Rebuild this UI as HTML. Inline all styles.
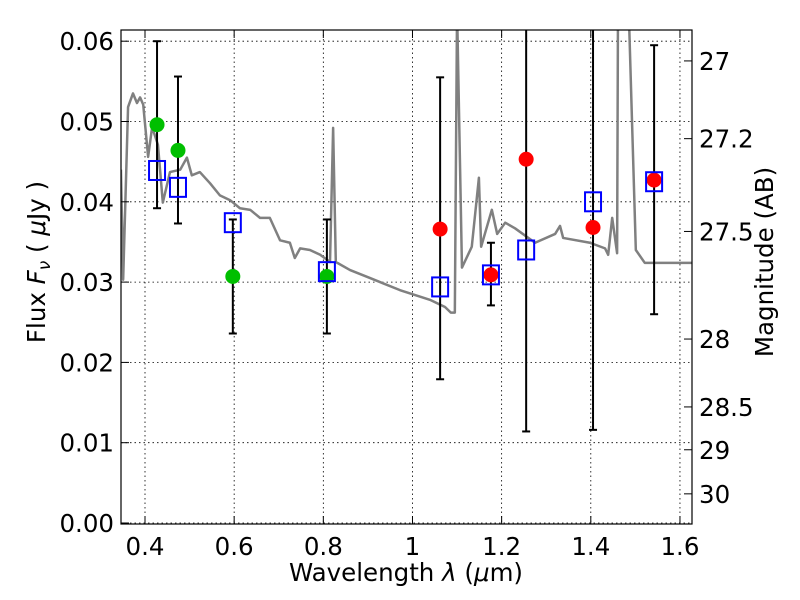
<!DOCTYPE html>
<html><head><meta charset="utf-8"><style>
body{margin:0;background:#fff}
svg{display:block;font-family:"DejaVu Sans","Liberation Sans",sans-serif}
</style></head><body>
<svg id="c" width="800" height="600"></svg>
<script>
const specLam=[0.346,0.351,0.362,0.373,0.382,0.389,0.396,0.407,0.416,0.429,0.440,0.456,0.479,0.494,0.505,0.523,0.546,0.568,0.591,0.613,0.636,0.658,0.680,0.703,0.725,0.736,0.748,0.770,0.793,0.815,0.822,0.828,0.860,0.905,0.972,1.039,1.073,1.086,1.095,1.100,1.111,1.133,1.149,1.154,1.178,1.190,1.208,1.230,1.275,1.320,1.331,1.338,1.398,1.432,1.439,1.448,1.459,1.461,1.485,1.501,1.521,1.560,1.627];
const specFlux=[0.0440,0.0303,0.0518,0.0535,0.0523,0.0530,0.0521,0.0456,0.0493,0.0471,0.0399,0.0437,0.0440,0.0455,0.0433,0.0437,0.0423,0.0408,0.0402,0.0392,0.0390,0.0380,0.0380,0.0352,0.0349,0.0330,0.0342,0.0340,0.0334,0.0325,0.0492,0.0325,0.0315,0.0305,0.0290,0.0278,0.0269,0.0262,0.0262,0.064,0.0318,0.0344,0.043,0.0344,0.039,0.036,0.0374,0.0367,0.0349,0.036,0.037,0.0355,0.0349,0.0342,0.0334,0.038,0.0336,0.064,0.064,0.034,0.0324,0.0324,0.0324];
const bandLam=[0.427,0.474,0.597,0.808,1.062,1.176,1.255,1.405,1.542];
const obsFlux=[0.0496,0.0464,0.0307,0.0307,0.0366,0.0309,0.0453,0.0368,0.0427];
const errLo=[0.0392,0.0373,0.0236,0.0236,0.0179,0.0271,0.0114,0.0116,0.0260];
const errHi=[0.0600,0.0556,0.0378,0.0378,0.0555,0.0349,0.070,0.070,0.0595];
const modelFlux=[0.0439,0.0418,0.0374,0.0313,0.0294,0.0309,0.0340,0.0400,0.0425];
const xTicks=[0.4,0.6,0.8,1.0,1.2,1.4,1.6];
const xTickLabels=["0.4","0.6","0.8","1","1.2","1.4","1.6"];
const yTicks=[0,0.01,0.02,0.03,0.04,0.05,0.06];
const yTickLabels=["0.00","0.01","0.02","0.03","0.04","0.05","0.06"];
const magTicks=[27,27.2,27.5,28,28.5,29,30];
const magTickLabels=["27","27.2","27.5","28","28.5","29","30"];

const L=121,R=692,T=30,B=524;
const FS=24.5;
const xs=l=>145+(l-0.4)*445.8;
const ys=f=>523-f*8030;
const ns="http://www.w3.org/2000/svg";
const svg=document.getElementById('c');
function mk(t,a,p){const e=document.createElementNS(ns,t);for(const k in a)e.setAttribute(k,a[k]);(p||svg).appendChild(e);return e;}
const cp=mk('clipPath',{id:'pc'});mk('rect',{x:L,y:T,width:R-L,height:B-T},cp);
const g=mk('g',{'clip-path':'url(#pc)'});


xTicks.forEach(v=>{const e=mk('line',{x1:xs(v),x2:xs(v),y1:T,y2:B,stroke:'#000','stroke-width':0.8,'stroke-dasharray':'1.5,3'},g);

});
yTicks.forEach(v=>{const e=mk('line',{x1:L,x2:R,y1:ys(v),y2:ys(v),stroke:'#000','stroke-width':0.8,'stroke-dasharray':'1.5,3'},g);

});
const sp=mk('polyline',{points:specLam.map((l,i)=>xs(l)+','+ys(specFlux[i])).join(' '),fill:'none',stroke:'#808080','stroke-width':2.5,'stroke-linejoin':'round'},g);


bandLam.forEach((l,i)=>{const x=xs(l);
const e=mk('line',{x1:x,x2:x,y1:ys(errLo[i]),y2:ys(errHi[i]),stroke:'#000','stroke-width':2},g);


[errLo[i],errHi[i]].forEach(v=>{const c=mk('line',{x1:x-4,x2:x+4,y1:ys(v),y2:ys(v),stroke:'#000','stroke-width':2},g);

});});
bandLam.forEach((l,i)=>{const c=mk('circle',{cx:xs(l),cy:ys(obsFlux[i]),r:7.5,fill:l<1?'#00bf00':'#ff0000'},g);

});
bandLam.forEach((l,i)=>{const r=mk('rect',{x:xs(l)-8,y:ys(modelFlux[i])-9.5,width:16,height:19,fill:'none',stroke:'#0000ff','stroke-width':2},g);

});
const fr=mk('rect',{x:L,y:T,width:R-L,height:B-T,fill:'none',stroke:'#000','stroke-width':1.2});


function txt(s,a,name){const e=mk('text',a);e.textContent=s;

return e;}
xTicks.forEach((v,i)=>{const x=xs(v);
mk('line',{x1:x,x2:x,y1:B,y2:B-8,stroke:'#000'});mk('line',{x1:x,x2:x,y1:T,y2:T+8,stroke:'#000'});
txt(xTickLabels[i],{x:x,y:B+31,'font-size':FS,'text-anchor':'middle'},'x-tick-label');});
yTicks.forEach((v,i)=>{const y=ys(v);
mk('line',{x1:L,x2:L+8,y1:y,y2:y,stroke:'#000'});
txt(yTickLabels[i],{x:L-7,y:y+9,'font-size':FS,'text-anchor':'end'},'y-tick-label');});
magTicks.forEach((m,i)=>{const y=ys(Math.pow(10,(23.9-m)/2.5));
mk('line',{x1:R,x2:R-8,y1:y,y2:y,stroke:'#000'});
txt(magTickLabels[i],{x:R+7,y:y+9,'font-size':FS},'magnitude-tick-label');});
const xl=txt('',{x:406,y:581,'font-size':FS,'text-anchor':'middle'},'x-axis-title');
xl.innerHTML='Wavelength  <tspan font-style="italic">λ</tspan> (<tspan font-style="italic">μ</tspan>m)';
const yl=txt('',{x:0,y:0,'font-size':FS,'text-anchor':'middle',transform:'translate(45,262) rotate(-90)'},'y-axis-title');
yl.innerHTML='Flux  <tspan font-style="italic">F</tspan><tspan font-style="italic" font-size="17" dy="5">ν</tspan><tspan dy="-5">  (  </tspan><tspan font-style="italic">μ</tspan>Jy )';
txt('Magnitude (AB)',{x:0,y:0,'font-size':FS,'text-anchor':'middle',transform:'translate(773,262) rotate(-90)'},'right-axis-title');
</script>
</body></html>
